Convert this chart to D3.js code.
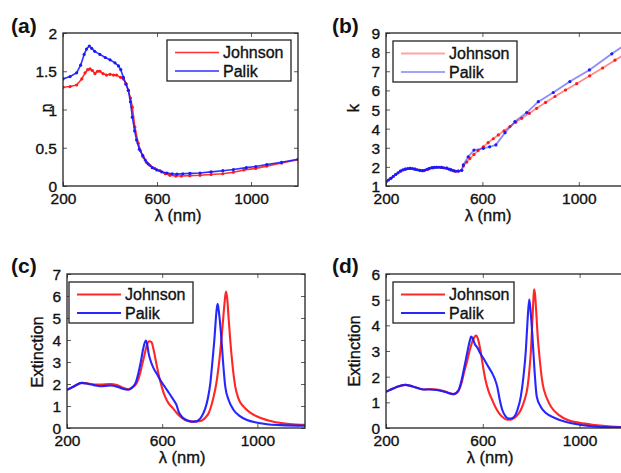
<!DOCTYPE html>
<html><head><meta charset="utf-8">
<script src="https://cdn.jsdelivr.net/npm/d3@7"></script>
<style>body{margin:0;background:#fff}svg{display:block}text{font-family:"Liberation Sans",Arial,sans-serif}</style>
</head><body>
<script>
// ---- data ----
const xTicks = [200, 600, 1000];
const seriesNames = ["Johnson", "Palik"];

// (a) refractive index n
const aJohnsonX = [200,230,258,280,294,305,315,325,336,347,357,370,385,400,415,428,445,457,468,478,487,495,506,520,530,541,555,570,590,612,635,655,680,704,740,783,830,880,925,970,1020,1067,1130,1200];
const aJohnsonY = [1.29,1.30,1.32,1.40,1.48,1.52,1.53,1.51,1.47,1.50,1.50,1.47,1.45,1.46,1.45,1.45,1.42,1.40,1.34,1.25,1.15,1.03,0.77,0.56,0.46,0.38,0.31,0.27,0.23,0.20,0.16,0.14,0.13,0.13,0.135,0.14,0.15,0.16,0.18,0.21,0.23,0.26,0.30,0.345];
const aPalikX = [200,230,258,275,290,300,312,322,335,357,380,400,421,436,446,457,468,478,487,495,505,513,525,539,550,562,580,599,620,642,665,685,710,740,783,830,880,925,980,1020,1067,1130,1200];
const aPalikY = [1.40,1.43,1.48,1.58,1.72,1.79,1.83,1.80,1.76,1.72,1.68,1.65,1.61,1.57,1.52,1.42,1.33,1.25,1.10,0.90,0.72,0.60,0.48,0.40,0.34,0.29,0.24,0.21,0.185,0.17,0.16,0.155,0.16,0.165,0.17,0.185,0.20,0.215,0.24,0.255,0.28,0.31,0.35];
const aYTicks = [0, 0.5, 1, 1.5, 2];

// (b) extinction coefficient k
const bJohnsonX = [200,220,240,260,280,300,320,340,355,375,395,410,430,452,470,485,500,514,521,535,548,565,582,604,624,645,666,690,714,738,763,795,825,862,901,945,991,1045,1099,1150,1200];
const bJohnsonY = [1.22,1.40,1.60,1.78,1.88,1.92,1.88,1.82,1.80,1.88,1.95,1.98,1.97,1.93,1.85,1.78,1.78,1.82,2.05,2.25,2.44,2.65,2.85,3.05,3.27,3.47,3.67,3.89,4.11,4.33,4.54,4.80,5.06,5.37,5.68,6.02,6.35,6.76,7.17,7.58,7.95];
const bPalikX = [200,210,220,230,240,250,260,270,280,290,300,310,320,330,340,350,360,370,380,390,400,410,420,430,440,452,462,470,480,490,500,514,521,541,565,604,630,656,694,735,784,832,894,963,1044,1137,1200];
const bPalikY = [1.22,1.31,1.40,1.50,1.60,1.69,1.78,1.84,1.88,1.91,1.92,1.91,1.88,1.85,1.82,1.80,1.82,1.87,1.92,1.96,1.97,1.98,1.98,1.97,1.95,1.93,1.88,1.84,1.80,1.77,1.78,1.82,2.10,2.53,2.88,2.97,3.05,3.15,3.79,4.37,4.84,5.41,5.89,6.46,7.07,7.91,8.45];
const bYTicks = [1,2,3,4,5,6,7,8,9];

// (c) extinction spectra
const cJohnsonX = [200,230,262,290,313,340,381,410,430,458,475,493,505,514,525,535,545,555,565,578,590,600,613,627,645,662,680,697,715,732,750,767,782,795,806,816,827,837,845,851,858,863,868,873,879,886,895,907,920,942,970,999,1050,1110,1150,1200];
const cJohnsonY = [1.73,1.90,2.05,2.02,1.98,1.97,2.00,1.95,1.85,1.76,1.85,2.04,2.40,2.79,3.30,3.75,3.94,3.90,3.50,2.79,2.20,1.80,1.40,1.12,0.90,0.67,0.48,0.36,0.30,0.29,0.30,0.34,0.48,0.67,1.00,1.42,2.00,2.79,3.60,4.30,5.20,5.80,6.20,5.90,5.00,3.98,2.90,1.88,1.35,0.97,0.70,0.52,0.33,0.21,0.17,0.14];
const cPalikX = [200,230,262,290,313,340,381,410,430,458,475,490,500,510,520,531,537,543,553,564,578,592,606,620,634,648,660,669,680,690,705,725,740,753,767,781,792,802,810,815,819,825,829,833,838,842,847,855,865,880,900,925,956,1000,1040,1100,1200];
const cPalikY = [1.73,1.90,2.05,2.00,1.95,1.90,1.93,1.88,1.80,1.74,1.85,2.10,2.50,3.00,3.60,3.97,3.80,3.39,3.00,2.71,2.45,2.18,1.95,1.73,1.50,1.27,1.05,0.74,0.55,0.44,0.35,0.29,0.30,0.36,0.55,0.89,1.35,2.02,2.90,3.50,3.99,4.90,5.40,5.64,5.30,4.90,4.30,3.10,1.88,1.25,0.82,0.55,0.36,0.24,0.17,0.13,0.10];
const cYTicks = [0,1,2,3,4,5,6,7];

// (d) extinction spectra
const dJohnsonX = [200,240,279,310,355,380,410,445,480,500,512,521,535,548,560,573,582,590,600,611,625,639,653,667,685,702,715,729,743,757,771,785,792,799,805,809,812,816,821,826,836,847,865,882,915,951,1000,1062,1130,1200];
const dJohnsonY = [1.41,1.58,1.68,1.62,1.50,1.52,1.50,1.42,1.32,1.45,1.75,2.10,2.60,3.10,3.45,3.60,3.40,3.04,2.45,1.87,1.40,1.09,0.80,0.58,0.40,0.32,0.32,0.38,0.50,0.70,1.05,1.60,2.20,3.04,4.20,5.00,5.40,5.20,4.50,3.69,2.60,1.74,1.15,0.83,0.50,0.31,0.20,0.12,0.06,0.03];
const dPalikX = [200,240,279,310,355,380,410,445,480,500,512,521,535,545,552,560,568,577,590,605,622,639,650,660,670,681,692,702,715,729,743,757,768,778,785,792,798,806,814,823,840,861,900,938,1000,1062,1130,1200];
const dPalikY = [1.41,1.58,1.68,1.62,1.50,1.50,1.48,1.40,1.32,1.48,1.85,2.25,2.90,3.35,3.56,3.45,3.25,3.14,2.90,2.68,2.40,2.13,1.90,1.60,1.10,0.69,0.48,0.38,0.37,0.43,0.70,1.22,2.00,3.04,4.20,5.01,4.50,3.43,2.20,1.22,0.82,0.58,0.38,0.25,0.13,0.06,0.03,0.02];
const dYTicks = [0,1,2,3,4,5,6];

// ---- drawing ----
const W = 621, H = 473;
const svg = d3.select("body").append("svg").attr("width", W).attr("height", H);
const RED = "#ff1a1a", BLUE = "#1a1aff";
const INK = "#111";
const TICK_FS = 15.5, LAB_FS = 16.5, LEG_FS = 16;

function zip(xs, ys){ return xs.map((x,i)=>[x, ys[i]]); }
function inked(sel){ return sel.attr("fill", INK).attr("stroke", INK).attr("stroke-width", 0.35); }

function panel(o){
  const x = d3.scaleLinear().domain([200,1200]).range([o.left, o.right]);
  const y = d3.scaleLinear().domain(o.yDomain).range([o.bottom, o.top]);
  const g = svg.append("g");
  const cid = "clip" + o.label;
  svg.append("clipPath").attr("id", cid).append("rect")
    .attr("x", o.left).attr("y", o.top).attr("width", o.right-o.left).attr("height", o.bottom-o.top);

  const line = d3.line().x(d=>x(d[0])).y(d=>y(d[1])).curve(o.smooth ? d3.curveMonotoneX : d3.curveLinear);
  const plot = g.append("g").attr("clip-path", `url(#${cid})`);
  o.series.forEach(s=>{
    const data = zip(s.x, s.y);
    plot.append("path").datum(data).attr("d", line).attr("fill","none")
      .attr("stroke", s.color).attr("stroke-width", o.lw).attr("stroke-opacity", o.lineOpacity)
      .attr("stroke-linejoin","round");
    if (o.dots) {
      plot.selectAll(null).data(data).enter().append("circle")
        .attr("cx", d=>x(d[0])).attr("cy", d=>y(d[1])).attr("r", 1.6).attr("fill", s.color);
    }
  });

  // axes (MATLAB style: inward ticks on all sides)
  const tl = 4;
  const axB = d3.axisBottom(x).tickValues(xTicks).tickSizeInner(-tl).tickSizeOuter(0).tickPadding(7).tickFormat(d3.format("d"));
  const axT = d3.axisTop(x).tickValues(xTicks).tickSizeInner(-tl).tickSizeOuter(0).tickFormat("");
  const axL = d3.axisLeft(y).tickValues(o.yTicks).tickSizeInner(-tl).tickSizeOuter(0).tickPadding(6).tickFormat(d3.format("~g"));
  const axR = d3.axisRight(y).tickValues(o.yTicks).tickSizeInner(-tl).tickSizeOuter(0).tickFormat("");
  const gb = g.append("g").attr("transform",`translate(0,${o.bottom})`).call(axB);
  const gt = g.append("g").attr("transform",`translate(0,${o.top})`).call(axT);
  const gl = g.append("g").attr("transform",`translate(${o.left},0)`).call(axL);
  const gr = g.append("g").attr("transform",`translate(${o.right},0)`).call(axR);
  [gb,gt,gl,gr].forEach(a=>{
    a.select(".domain").remove();
    a.selectAll("line").attr("stroke","#333").attr("stroke-width",0.8);
    inked(a.selectAll("text").attr("font-size", TICK_FS).style("font-family",'"Liberation Sans",Arial,sans-serif'));
  });
  gb.selectAll("text").attr("dy", "0.71em");
  gl.selectAll("text").attr("dy", "0.36em");
  g.append("rect").attr("x",o.left).attr("y",o.top).attr("width",o.right-o.left).attr("height",o.bottom-o.top)
    .attr("fill","none").attr("stroke","#222").attr("stroke-width",1.3);

  // axis labels
  inked(g.append("text").attr("x", o.xlabX).attr("y", o.bottom+35)
    .attr("text-anchor","middle").attr("font-size",LAB_FS).text("λ (nm)"));
  inked(g.append("text").attr("transform",`translate(${o.ylabX},${o.ylabY}) rotate(-90)`)
    .attr("text-anchor","middle").attr("font-size",LAB_FS).text(o.ylabel));
  // panel label
  g.append("text").attr("x", o.plX).attr("y", o.plY).attr("font-size",21).attr("font-weight","bold")
    .attr("fill",INK).text(`(${o.label})`);

  // legend
  const L = o.legend;
  const lg = g.append("g");
  lg.append("rect").attr("x",L.x).attr("y",L.y).attr("width",L.w).attr("height",L.h)
    .attr("fill","#fff").attr("stroke","#222").attr("stroke-width",1.3);
  o.series.forEach((s,i)=>{
    const yy = L.y + 12.5 + i*18.5;
    lg.append("line").attr("x1",L.x+8).attr("x2",L.x+52).attr("y1",yy).attr("y2",yy)
      .attr("stroke",s.color).attr("stroke-width",o.lw).attr("stroke-opacity",o.legendOpacity);
    inked(lg.append("text").attr("x",L.x+56).attr("y",yy+5.5).attr("font-size",LEG_FS).text(s.name));
  });
}

panel({label:"a", left:63, right:298, top:33, bottom:186, yDomain:[0,2], yTicks:aYTicks,
  series:[{name:seriesNames[0], x:aJohnsonX, y:aJohnsonY, color:RED},{name:seriesNames[1], x:aPalikX, y:aPalikY, color:BLUE}],
  dots:true, smooth:false, lw:1.6, lineOpacity:0.9, legendOpacity:0.9, ylabel:"n", ylabX:52, ylabY:108, xlabX:178,
  plX:11, plY:33, legend:{x:167, y:40, w:124, h:41}});

panel({label:"b", left:386, right:627, top:33, bottom:186, yDomain:[1,9], yTicks:bYTicks,
  series:[{name:seriesNames[0], x:bJohnsonX, y:bJohnsonY, color:RED},{name:seriesNames[1], x:bPalikX, y:bPalikY, color:BLUE}],
  dots:true, smooth:false, lw:1.8, lineOpacity:0.5, legendOpacity:0.4, ylabel:"k", ylabX:359, ylabY:108, xlabX:488,
  plX:332, plY:33, legend:{x:393, y:41, w:124, h:41}});

panel({label:"c", left:67, right:305, top:274, bottom:428, yDomain:[0,7], yTicks:cYTicks,
  series:[{name:seriesNames[0], x:cJohnsonX, y:cJohnsonY, color:RED},{name:seriesNames[1], x:cPalikX, y:cPalikY, color:BLUE}],
  dots:false, smooth:true, lw:2.1, lineOpacity:0.95, legendOpacity:0.95, ylabel:"Extinction", ylabX:43, ylabY:352, xlabX:182,
  plX:11, plY:273, legend:{x:69, y:282, w:124, h:41}});

panel({label:"d", left:386, right:628, top:274, bottom:428, yDomain:[0,6], yTicks:dYTicks,
  series:[{name:seriesNames[0], x:dJohnsonX, y:dJohnsonY, color:RED},{name:seriesNames[1], x:dPalikX, y:dPalikY, color:BLUE}],
  dots:false, smooth:true, lw:2.1, lineOpacity:0.95, legendOpacity:0.95, ylabel:"Extinction", ylabX:360, ylabY:351, xlabX:490,
  plX:332, plY:273, legend:{x:393, y:282, w:121, h:41}});
</script>
</body></html>
